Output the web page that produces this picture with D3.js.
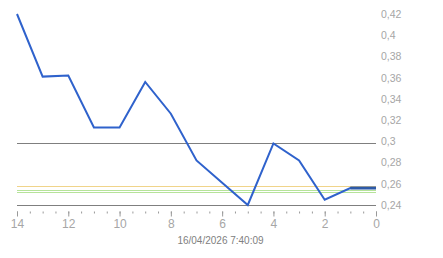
<!DOCTYPE html>
<html>
<head>
<meta charset="utf-8">
<script src="https://cdn.jsdelivr.net/npm/d3@7"></script>
<style>
  body { margin: 0; background: #fff; }
  svg { display: block; font-family: "Liberation Sans", Arial, sans-serif; }
</style>
</head>
<body>
<div id="chart"></div>
<script>
// days back (x) and price values
var daysBack = [14, 13, 12, 11, 10, 9, 8, 7, 6, 5, 4, 3, 2, 1, 0];
var prices = [0.42, 0.361, 0.362, 0.313, 0.313, 0.356, 0.326, 0.282, 0.261, 0.24, 0.298, 0.282, 0.245, 0.256, 0.256];

var yTicks = [0.24, 0.26, 0.28, 0.3, 0.32, 0.34, 0.36, 0.38, 0.4, 0.42];
var xMajor = [14, 12, 10, 8, 6, 4, 2, 0];
var xMinor = d3.range(0, 14.01, 0.5);

// horizontal reference levels
var refGray = 0.2984;
var refYellow = 0.2579;
var refGreen = [0.2539, 0.2523];

var stamp = "16/04/2026 7:40:09";

var w = 443, h = 258;

var x = d3.scaleLinear().domain([14, 0]).range([17, 376]);
var y = d3.scaleLinear().domain([0.24, 0.42]).range([205, 14]);

var svg = d3.select("#chart").append("svg")
    .attr("width", w)
    .attr("height", h);

function hline(v, color, width) {
    svg.append("line")
        .attr("x1", x(14)).attr("x2", x(0))
        .attr("y1", Math.round(y(v)) + 0.5).attr("y2", Math.round(y(v)) + 0.5)
        .attr("stroke", color)
        .attr("stroke-width", width || 1);
}

hline(refYellow, "#f0d48a");
hline(refGreen[0], "#b6e39a");
hline(refGreen[1], "#b6e39a");
hline(refGray, "#7f7f7f");
hline(0.24, "#7f7f7f"); // baseline

// y labels on the right
var yAxis = d3.axisRight(y)
    .tickValues(yTicks)
    .tickSize(0)
    .tickPadding(5)
    .tickFormat(function(d) { return d3.format("")(+d.toFixed(2)).replace(".", ","); });

var gy = svg.append("g")
    .attr("transform", "translate(" + x(0) + ",0)")
    .call(yAxis);
gy.select(".domain").remove();
gy.selectAll("text").attr("fill", "#a6a6a6").style("font-size", "10.5px");

// minor ticks every half day
var gMinor = svg.append("g")
    .attr("transform", "translate(0,211.5)")
    .call(d3.axisBottom(x).tickValues(xMinor).tickSize(2).tickFormat(""));
gMinor.select(".domain").remove();
gMinor.selectAll("line").attr("stroke", "#999");

// major ticks with labels
var gx = svg.append("g")
    .attr("transform", "translate(0,211.5)")
    .call(d3.axisBottom(x).tickValues(xMajor).tickSize(5).tickPadding(3).tickFormat(d3.format("d")));
gx.select(".domain").remove();
gx.selectAll("line").attr("stroke", "#999");
gx.selectAll("text").attr("fill", "#a6a6a6").style("font-size", "12px");

// price line
var pts = daysBack.map(function(d, i) { return [d, prices[i]]; });
var line = d3.line()
    .x(function(d) { return x(d[0]); })
    .y(function(d) { return y(d[1]); });

svg.append("path")
    .datum(pts)
    .attr("fill", "none")
    .attr("stroke", "#2f62cc")
    .attr("stroke-width", 2)
    .attr("stroke-linejoin", "miter")
    .attr("d", line);

// last segment drawn darker and thicker
svg.append("path")
    .datum(pts.slice(-2))
    .attr("fill", "none")
    .attr("stroke", "#2d5aa8")
    .attr("stroke-width", 3)
    .attr("d", line);

svg.append("text")
    .attr("x", (x(14) + x(0)) / 2 + 24)
    .attr("y", 244)
    .attr("text-anchor", "middle")
    .attr("fill", "#808080")
    .style("font-size", "10px")
    .text(stamp);
</script>
</body>
</html>
